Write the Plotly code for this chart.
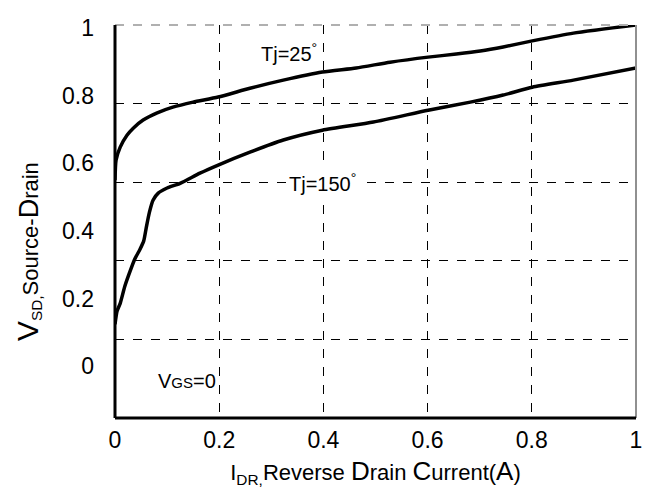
import plotly.graph_objects as go

# ---- data ----
tj25_x = [0.000, 0.002, 0.010, 0.023, 0.035, 0.054, 0.081, 0.111, 0.150, 0.198, 0.259,
          0.323, 0.398, 0.463, 0.528, 0.601, 0.655, 0.701, 0.745, 0.801, 0.880, 1.000]
tj25_y = [0.550, 0.609, 0.648, 0.683, 0.704, 0.728, 0.749, 0.766, 0.781, 0.796, 0.822,
          0.846, 0.870, 0.882, 0.899, 0.914, 0.923, 0.932, 0.944, 0.962, 0.985, 1.009]

tj150_x = [0.000, 0.004, 0.010, 0.019, 0.029, 0.038, 0.048, 0.055, 0.060, 0.066, 0.073,
           0.083, 0.100, 0.125, 0.163, 0.198, 0.259, 0.323, 0.398, 0.496, 0.601, 0.682,
           0.745, 0.801, 0.880, 1.000]
tj150_y = [0.124, 0.163, 0.186, 0.237, 0.281, 0.317, 0.346, 0.370, 0.410, 0.455, 0.491,
           0.512, 0.527, 0.541, 0.571, 0.595, 0.633, 0.669, 0.698, 0.722, 0.757, 0.781,
           0.802, 0.825, 0.846, 0.882]

x_ticks = [0, 0.2, 0.4, 0.6, 0.8, 1]
x_tick_labels = ["0", "0.2", "0.4", "0.6", "0.8", "1"]
y_ticks = [0, 0.2, 0.4, 0.6, 0.8, 1]
y_tick_labels = ["0", "0.2", "0.4", "0.6", "0.8", "1"]
grid_y = [0, 0.2, 0.4, 0.6, 0.8, 1]

REG = "Liberation Sans, Arial, sans-serif"

fig = go.Figure()
fig.add_trace(go.Scatter(x=tj25_x, y=tj25_y, mode="lines", name="Tj=25",
                         line=dict(color="black", width=3.5, shape="spline", smoothing=0.6)))
fig.add_trace(go.Scatter(x=tj150_x, y=tj150_y, mode="lines", name="Tj=150",
                         line=dict(color="black", width=3.5, shape="spline", smoothing=0.6)))
# invisible trace to activate the grid axis
fig.add_trace(go.Scatter(x=[0, 1], y=[0, 1], yaxis="y2", mode="lines",
                         line=dict(width=0), hoverinfo="skip", showlegend=False))

fig.update_layout(
    width=653, height=496,
    margin=dict(l=115, r=17, t=25, b=78),
    paper_bgcolor="white", plot_bgcolor="rgba(0,0,0,0)",
    showlegend=False,
    font=dict(family=REG, color="black"),
    xaxis=dict(range=[0, 1], tickvals=x_ticks, ticktext=x_tick_labels,
               showgrid=True, gridcolor="black", gridwidth=1, griddash="dash",
               zeroline=False, showline=False, ticks="", automargin=False,
               tickfont=dict(size=23, family=REG), ticklabelstandoff=6,
               title=dict(text="I<sub>DR,</sub>Reverse <span style='font-size:26px'>D</span>rain "
                               "<span style='font-size:26px'>C</span>urrent("
                               "<span style='font-size:26px'>A</span>)",
                          font=dict(size=22, family=REG), standoff=12)),
    yaxis=dict(range=[-0.153, 1.009], tickvals=y_ticks, ticktext=y_tick_labels,
               showgrid=False, zeroline=False, showline=False, ticks="", automargin=False,
               tickfont=dict(size=23, family=REG), ticklabelstandoff=20),
    yaxis2=dict(range=[0, 1], overlaying="y", tickvals=grid_y, showticklabels=False,
                showgrid=True, gridcolor="black", gridwidth=1, griddash="dash",
                zeroline=False, showline=False, ticks="", automargin=False),
)

# frame
fig.add_shape(type="line", xref="paper", yref="paper", x0=0, x1=1, y0=1, y1=1,
              line=dict(color="#b0b0b0", width=2, dash="dash"))
fig.add_shape(type="line", xref="paper", yref="paper", x0=1, x1=1, y0=0, y1=1,
              line=dict(color="#909090", width=2))
fig.add_shape(type="line", xref="paper", yref="paper", x0=0, x1=0, y0=0, y1=1,
              line=dict(color="black", width=3))
fig.add_shape(type="line", xref="paper", yref="paper", x0=0, x1=1, y0=0, y1=0,
              line=dict(color="black", width=3))

fig.add_annotation(x=0.334, y=(417.7 - 52) / 392.7, xref="x", yref="paper",
                   text="Tj=25<sup>°</sup>", xanchor="center", yanchor="middle",
                   showarrow=False, font=dict(size=20, family=REG))
fig.add_annotation(x=0.398, y=0.6, xref="x", yref="y2", text="Tj=150<sup>°</sup>",
                   xanchor="center", yanchor="middle",
                   showarrow=False, font=dict(size=20, family=REG),
                   bgcolor="white", borderpad=2)
fig.add_annotation(x=0.139, y=(417.7 - 381) / 392.7, xref="x", yref="paper",
                   text="V<span style='font-size:15px'>GS</span>=0",
                   xanchor="center", yanchor="middle",
                   showarrow=False, font=dict(size=20, family=REG))
fig.add_annotation(x=(28 - 115) / 520.5, y=(417.7 - 251) / 392.7, xref="paper", yref="paper",
                   text="<span style='font-size:30px'>V</span><sub>SD,</sub>Source-"
                        "<span style='font-size:27px'>D</span>rain",
                   xanchor="center", yanchor="middle",
                   textangle=-90, showarrow=False, font=dict(size=22, family=REG))

fig.write_html("out.html", config={"displayModeBar": False},
               post_script="document.body.style.margin='0';document.body.style.padding='0';")
